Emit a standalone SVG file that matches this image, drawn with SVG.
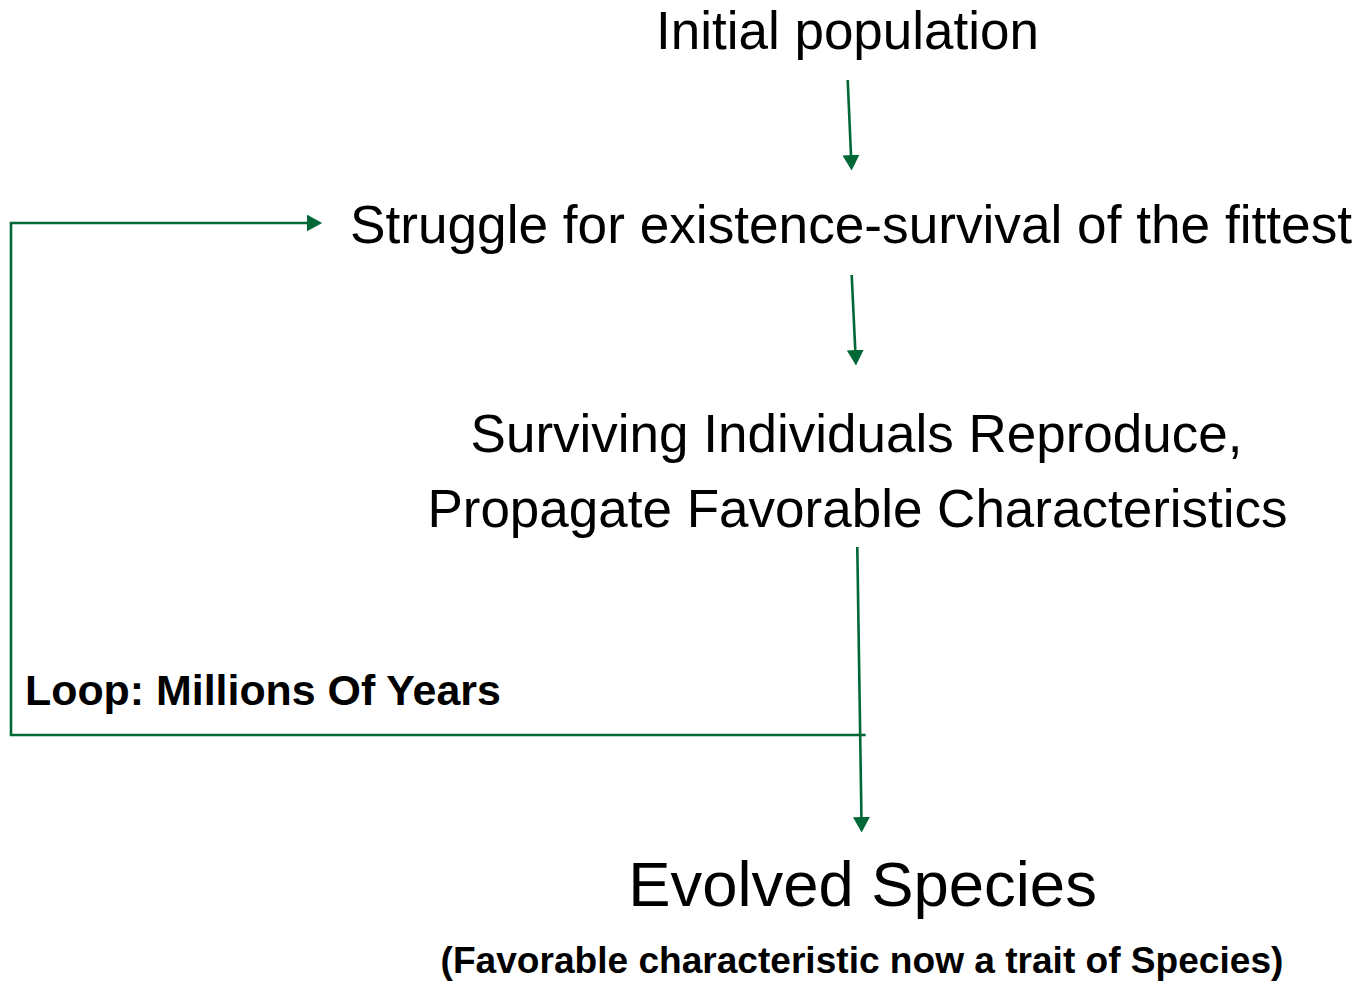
<svg xmlns="http://www.w3.org/2000/svg" width="1358" height="983" viewBox="0 0 1358 983">
<style>
.t{font-family:"Liberation Sans",Arial,sans-serif;fill:#000;text-anchor:middle}
.n{font-size:53px}
.b{font-weight:bold}
.c{fill:none;stroke:#006837;stroke-width:2.6}
</style>
<defs>
<marker id="ah" markerUnits="userSpaceOnUse" markerWidth="17" markerHeight="17" refX="5" refY="8.5" orient="auto" viewBox="0 0 17 17">
<path d="M0,0 L15.5,8.5 L0,17 z" fill="#006837"/>
</marker>
</defs>
<rect width="1358" height="983" fill="#fff"/>
<g id="connectors">
<line class="c" x1="847.7" y1="80" x2="851.2" y2="160" marker-end="url(#ah)"/>
<line class="c" x1="851.7" y1="275" x2="855.5" y2="355" marker-end="url(#ah)"/>
<line class="c" x1="857.3" y1="547" x2="861.5" y2="822" marker-end="url(#ah)"/>
<polyline class="c" points="865.7,735 11,735 11,223 311.7,223" marker-end="url(#ah)"/>
</g>
<g id="initial"><text class="t n" x="847.5" y="49">Initial population</text></g>
<g id="struggle"><text class="t" style="font-size:53.2px" x="851" y="243">Struggle for existence-survival of the fittest</text></g>
<g id="surviving">
<text class="t n" x="856.5" y="452">Surviving Individuals Reproduce,</text>
<text class="t n" x="857.5" y="527">Propagate Favorable Characteristics</text>
</g>
<g id="loop-label"><text class="t b" style="font-size:42.9px;text-anchor:start" x="25" y="705">Loop: Millions Of Years</text></g>
<g id="evolved">
<text class="t" style="font-size:63.4px" x="862.5" y="906">Evolved Species</text>
<text class="t b" style="font-size:37.1px" x="862" y="973">(Favorable characteristic now a trait of Species)</text>
</g>
</svg>
